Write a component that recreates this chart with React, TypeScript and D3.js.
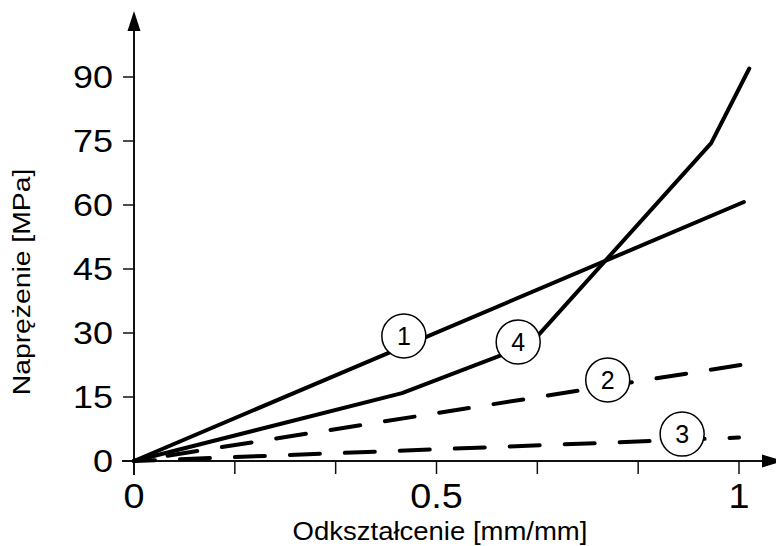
import React from 'react';
import * as d3 from 'd3';

// strain [mm/mm] vs stress [MPa]
const curve1 = [
    {x: 0, y: 0},
    {x: 1.008, y: 60.7}
];
const curve2 = [
    {x: 0, y: 0},
    {x: 1.003, y: 22.5}
];
const curve3 = [
    {x: 0, y: 0},
    {x: 1.0, y: 5.5}
];
const curve4 = [
    {x: 0, y: 0},
    {x: 0.443, y: 15.9},
    {x: 0.655, y: 27.4},
    {x: 0.954, y: 74.5},
    {x: 1.017, y: 92}
];

// numbered circles placed on the curves
const markers = [
    {id: '1', x: 0.446, y: 29.3},
    {id: '4', x: 0.635, y: 27.9},
    {id: '2', x: 0.783, y: 19.0},
    {id: '3', x: 0.906, y: 6.3}
];

const yTicks = [0, 15, 30, 45, 60, 75, 90];
const xTicks = [0, 1 / 6, 2 / 6, 0.5, 4 / 6, 5 / 6, 1];
const xLabels = [0, 0.5, 1];

const FONT = '"Liberation Sans", Arial, sans-serif';

const App: React.FC = () => {
    const width = 776;
    const height = 546;

    const x = d3.scaleLinear().domain([0, 1]).range([134, 739]);
    const y = d3.scaleLinear().domain([0, 90]).range([461, 77]);

    const line = d3.line<{x: number; y: number}>()
        .x(d => x(d.x))
        .y(d => y(d.y));

    const x0 = x(0);
    const y0 = y(0);

    return (
        <div style={{position: 'absolute', left: 0, top: 0}}>
            <svg width={width} height={height} style={{display: 'block', background: '#fff'}}>
                {/* axes with arrows */}
                <line x1={x0 - 12} x2={762} y1={y0} y2={y0} stroke="#111" strokeWidth={2}/>
                <path d={`M762,${y0 - 6.5} L784,${y0} L762,${y0 + 6.5} Z`} fill="#000"/>
                <line x1={x0} x2={x0} y1={y0 + 14} y2={30} stroke="#111" strokeWidth={2}/>
                <path d={`M${x0 - 6.5},31 L${x0},11 L${x0 + 6.5},31 Z`} fill="#000"/>

                {yTicks.map(t => (
                    <g key={'y' + t}>
                        <line x1={x0 - 11} x2={x0} y1={y(t)} y2={y(t)} stroke="#111" strokeWidth={1.5}/>
                        <text transform={`translate(113,${y(t)}) scale(1.16,1)`} dy="0.36em"
                              textAnchor="end" fontFamily={FONT} fontSize={31}>{t}</text>
                    </g>
                ))}
                {xTicks.map((t, i) => (
                    <line key={'x' + i} x1={x(t)} x2={x(t)} y1={y0} y2={y0 + 13}
                          stroke="#111" strokeWidth={1.5}/>
                ))}
                {xLabels.map(t => (
                    <text key={'xl' + t} transform={`translate(${x(t)},508) scale(1.08,1)`}
                          textAnchor="middle" fontFamily={FONT} fontSize={35}>{t}</text>
                ))}

                <text transform="translate(440,540) scale(1.1,1)" textAnchor="middle"
                      fontFamily={FONT} fontSize={25}>
                    Odkształcenie [mm/mm]
                </text>
                <text transform="translate(30,282) rotate(-90) scale(1.18,1)" textAnchor="middle"
                      fontFamily={FONT} fontSize={24}>
                    Naprężenie [MPa]
                </text>

                {/* curves */}
                <path d={line(curve2) || ''} fill="none" stroke="#000" strokeWidth={4}
                      strokeDasharray="30 25" strokeDashoffset={21} strokeLinecap="round"/>
                <path d={line(curve3) || ''} fill="none" stroke="#000" strokeWidth={4}
                      strokeDasharray="30 25" strokeDashoffset={9} strokeLinecap="round"/>
                <path d={line(curve1) || ''} fill="none" stroke="#000" strokeWidth={4}
                      strokeLinecap="round" strokeLinejoin="round"/>
                <path d={line(curve4) || ''} fill="none" stroke="#000" strokeWidth={4}
                      strokeLinecap="round" strokeLinejoin="round"/>

                {markers.map(m => (
                    <g key={m.id} transform={`translate(${x(m.x)},${y(m.y)})`}>
                        <circle r={22} fill="#fff" stroke="#000" strokeWidth={1.5}/>
                        <text dy="0.36em" textAnchor="middle" fontFamily={FONT} fontSize={25}>{m.id}</text>
                    </g>
                ))}
            </svg>
        </div>
    );
};

export default App;
